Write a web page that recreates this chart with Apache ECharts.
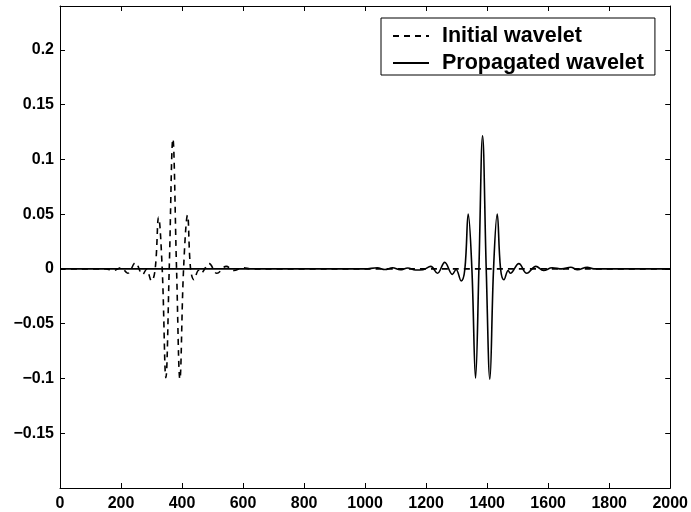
<!DOCTYPE html>
<html>
<head>
<meta charset="utf-8">
<script src="https://cdn.jsdelivr.net/npm/echarts@6/dist/echarts.min.js"></script>
<style>
  html, body { margin: 0; padding: 0; background: #fff; }
  #chart { width: 691px; height: 512px; }
</style>
</head>
<body>
<div id="chart"></div>
<script>
// Sample positions and amplitudes of the wavelet before propagation
const initialX = [0, 150, 175, 200, 222, 247, 271, 283, 300, 312, 323, 335, 347, 358, 370, 382, 393, 405, 418, 428, 439, 454, 461, 489, 514, 545, 570, 598, 630, 2000];
const initialY = [0, 0, -0.0015, 0.001, -0.004, 0.0055, -0.005, -0.0005, -0.011, 0, 0.047, 0, -0.0993, 0, 0.1185, 0, -0.1005, 0, 0.049, 0, -0.0099, -0.0015, -0.004, 0.0048, -0.004, 0.0023, -0.0015, 0.001, 0, 0];

// Sample positions and amplitudes of the wavelet after propagation
const propagatedX = [0, 1000, 1040, 1065, 1090, 1115, 1140, 1165, 1190, 1215, 1237, 1261, 1286, 1298, 1315, 1327, 1338, 1350, 1362, 1373, 1385, 1397, 1409, 1421, 1433, 1444, 1455, 1469, 1476, 1504, 1530, 1560, 1585, 1613, 1645, 1674, 1696, 1728, 1750, 2000];
const propagatedY = [0, 0, 0.001, -0.0005, 0.001, -0.0008, 0.0008, -0.001, -0.0007, 0.0023, -0.004, 0.006, -0.005, -0.0005, -0.011, 0, 0.05, 0, -0.0998, 0, 0.1216, 0, -0.1007, 0, 0.05, 0, -0.0099, -0.0015, -0.004, 0.0048, -0.004, 0.0023, -0.0015, 0.001, 0, 0.0015, -0.0008, 0.0015, 0, 0];

const seriesNames = ['Initial wavelet', 'Propagated wavelet'];
const xTickStep = 200;
const yTickStep = 0.05;

const pairs = (xs, ys) => xs.map((x, i) => [x, ys[i]]);

const FONT = '"Liberation Sans", Arial, Helvetica, sans-serif';

function yLabel(v) {
  const r = Math.round(v * 100) / 100;
  if (Math.abs(r + 0.2) < 1e-9) return '';
  if (r === 0) return '0';
  const s = String(Math.abs(r));
  return r < 0 ? '\u2212' + s : s;
}

const xLabel = v => String(Math.round(v));

const tickStyle = { show: true, inside: true, length: 5, lineStyle: { color: '#000', width: 1 } };
const lineStyleAxis = { show: true, onZero: false, lineStyle: { color: '#000', width: 1 } };

const chart = echarts.init(document.getElementById('chart'), null, { renderer: 'canvas' });

chart.setOption({
  animation: false,
  backgroundColor: '#fff',
  grid: { left: 60, right: 20, top: 6, bottom: 24, containLabel: false },
  legend: {
    data: seriesNames,
    orient: 'vertical',
    left: 381,
    top: 18,
    itemWidth: 36,
    itemHeight: 14,
    itemGap: 5,
    padding: [7, 11, 1, 11],
    borderColor: '#000',
    borderWidth: 1,
    backgroundColor: '#fff',
    itemStyle: { color: 'transparent', borderWidth: 0, opacity: 0 },
    textStyle: { fontFamily: FONT, fontWeight: 'bold', fontSize: 21.5, color: '#000', lineHeight: 22, padding: [0, 0, 0, 8] }
  },
  xAxis: [
    {
      type: 'value', position: 'bottom', min: 0, max: 2000, interval: xTickStep,
      axisLine: lineStyleAxis, axisTick: tickStyle, splitLine: { show: false },
      axisLabel: { color: '#000', fontFamily: FONT, fontWeight: 'bold', fontSize: 16, margin: 8, formatter: xLabel }
    },
    {
      type: 'value', position: 'top', min: 0, max: 2000, interval: xTickStep,
      axisLine: lineStyleAxis, axisTick: tickStyle, splitLine: { show: false },
      axisLabel: { show: false }
    }
  ],
  yAxis: [
    {
      type: 'value', position: 'left', min: -0.2, max: 0.24, interval: yTickStep,
      axisLine: lineStyleAxis, axisTick: tickStyle, splitLine: { show: false },
      axisLabel: { color: '#000', fontFamily: FONT, fontWeight: 'bold', fontSize: 16, margin: 6, formatter: yLabel, showMaxLabel: false }
    },
    {
      type: 'value', position: 'right', min: -0.2, max: 0.24, interval: yTickStep,
      axisLine: lineStyleAxis, axisTick: tickStyle, splitLine: { show: false },
      axisLabel: { show: false }
    }
  ],
  series: [
    {
      name: seriesNames[0],
      type: 'line',
      data: pairs(initialX, initialY),
      symbol: 'none',
      smooth: 0.4,
      lineStyle: { color: '#000', width: 1.6, type: [6, 5] },
      itemStyle: { color: '#000' },
      z: 3
    },
    {
      name: seriesNames[1],
      type: 'line',
      data: pairs(propagatedX, propagatedY),
      symbol: 'none',
      smooth: 0.4,
      lineStyle: { color: '#000', width: 1.6, type: 'solid' },
      itemStyle: { color: '#000' },
      z: 2
    }
  ]
});
</script>
</body>
</html>
